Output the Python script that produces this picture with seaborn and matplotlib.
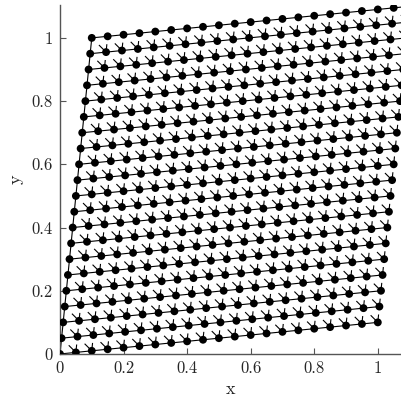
import numpy as np
import pandas as pd
import matplotlib
matplotlib.use("Agg")
import matplotlib.pyplot as plt
import seaborn as sns
from matplotlib.collections import LineCollection

sns.set_theme(style="ticks")
plt.rcParams["font.family"] = "serif"
plt.rcParams["font.serif"] = ["cmr10", "DejaVu Serif"]
plt.rcParams["axes.formatter.use_mathtext"] = True

# lattice description
n_cols = 21
n_rows = 21
step_i = [0.05, 0.005]   # lattice vector along a row
step_j = [0.005, 0.05]   # lattice vector along a column
spoke_frac = 0.5
x_ticks = [0, 0.2, 0.4, 0.6, 0.8, 1.0]
y_ticks = [0, 0.2, 0.4, 0.6, 0.8, 1.0]
x_tick_labels = ["0", "0.2", "0.4", "0.6", "0.8", "1"]
y_tick_labels = ["0", "0.2", "0.4", "0.6", "0.8", "1"]

ii, jj = np.meshgrid(np.arange(n_cols), np.arange(n_rows), indexing="ij")
X = ii * step_i[0] + jj * step_j[0]
Y = ii * step_i[1] + jj * step_j[1]
df = pd.DataFrame({"x": X.ravel(), "y": Y.ravel()})

fig = plt.figure(figsize=(4.01, 4.08), dpi=100)
ax = fig.add_axes([0.1496, 0.1324, 0.8504, 0.8553])

segs = []
for i in range(n_cols):
    for j in range(n_rows):
        p = np.array([X[i, j], Y[i, j]])
        # horizontal full edges
        if i > 0:
            q = np.array([X[i - 1, j], Y[i - 1, j]])
            segs.append([p, q])
        # vertical
        if j < n_rows - 1:
            q = np.array([X[i, j + 1], Y[i, j + 1]])
            if i == 0:
                segs.append([p, q])
            else:
                segs.append([p, p + spoke_frac * (q - p)])
        # diagonal up-left
        if i > 0 and j < n_rows - 1:
            q = np.array([X[i - 1, j + 1], Y[i - 1, j + 1]])
            segs.append([p, p + spoke_frac * (q - p)])

ax.add_collection(LineCollection(segs, colors="black", linewidths=0.8, zorder=2))
sns.scatterplot(data=df, x="x", y="y", ax=ax, color="black", s=32,
                edgecolor="none", zorder=3, clip_on=True)

ax.set_xlim(0, 1.073)
ax.set_ylim(0, 1.104)
ax.set_xticks(x_ticks)
ax.set_xticklabels(x_tick_labels)
ax.set_yticks(y_ticks)
ax.set_yticklabels(y_tick_labels)
ax.tick_params(direction="in", length=4, width=0.8, labelsize=12, color="#555555", pad=5)
ax.set_xlabel("x", fontsize=13)
ax.set_ylabel("y", fontsize=13, labelpad=6)
sns.despine(ax=ax)
for s in ["left", "bottom"]:
    ax.spines[s].set_color("#555555")
    ax.spines[s].set_linewidth(1.0)

fig.savefig("out.png", dpi=100)
